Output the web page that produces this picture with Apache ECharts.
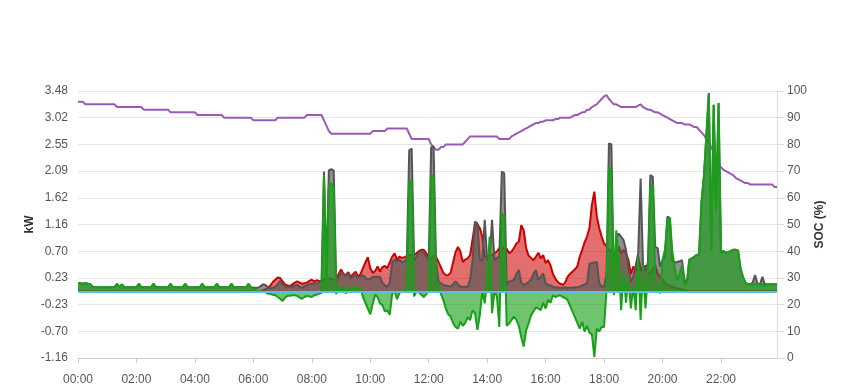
<!DOCTYPE html>
<html><head><meta charset="utf-8">
<script src="https://cdn.jsdelivr.net/npm/echarts@6/dist/echarts.min.js"></script>
<style>html,body{margin:0;padding:0;background:#fff}#c{width:849px;height:390px}</style>
</head><body><div id="c"></div>
<script>
function pad(n){return (n<10?'0':'')+n;}
// 5-minute categories 00:00 .. 23:55
const categories = [];
for (let h = 0; h < 24; h++) for (let m = 0; m < 60; m += 5) categories.push(pad(h) + ':' + pad(m));

// Battery state of charge (%)
const soc = [
96,96,96,95,95,95,95,95,95,95,95,95,
95,95,95,95,94,94,94,94,94,94,94,94,
94,94,94,93,93,93,93,93,93,93,93,93,
93,93,92,92,92,92,92,92,92,92,92,92,
92,91,91,91,91,91,91,91,91,91,91,91,
90,90,90,90,90,90,90,90,90,90,90,90,
89,89,89,89,89,89,89,89,89,89,90,90,
90,90,90,90,90,90,90,90,90,90,91,91,
91,91,91,91,91,89,87,85,84,84,84,84,
84,84,84,84,84,84,84,84,84,84,84,84,
84,85,85,85,85,85,85,86,86,86,86,86,
86,86,86,86,84,82,82,82,82,82,82,82,
82,80,79,78,78,79,79,80,80,80,80,80,
80,80,80,81,82,83,83,83,83,83,83,83,
83,83,83,83,83,82,82,82,82,82,83,83.5,
84,84.5,85,85.5,86,86.5,87,87.5,88,88,88.5,88.5,
89,89,89,89,89.5,89.5,90,90,90,90,90,90.5,
91,91,91.5,92,92,93,93,94,94.5,95,96,97,
98,98.5,97,96,95,95,94.5,94,94,94,94,94,
94,94,94.5,95,94,93.5,93,93,92.5,92,92,91.5,
91,90.5,90,89.5,89,88.5,88,88,88,87.5,87.5,87.5,
87,86.5,86.5,85.5,84.5,83.5,82,81,79,77,75,72.5,
71.5,70.5,70,69.5,69,68.5,67.5,67,66.5,66,65.5,65.5,
65,65,65,65,65,65,65,65,65,65,64,64
];

// Red series (kW)
const redKw = [
0,0,0,0,0,0,0,0,0,0,0,0,
0,0,0,0,0,0,0,0,0,0,0,0,
0,0,0,0,0,0,0,0,0,0,0,0,
0,0,0,0,0,0,0,0,0,0,0,0,
0,0,0,0,0,0,0,0,0,0,0,0,
0,0,0,0,0,0,0,0,0,0,0,0,
0,0,0,0,0.02,0.03,0.06,0.1,0.16,0.2,0.24,0.23,
0.17,0.12,0.1,0.09,0.12,0.15,0.17,0.15,0.13,0.14,0.15,0.18,
0.2,0.17,0.19,0.18,0.18,0.2,0.22,0.22,0.22,0.2,0.17,0.3,
0.38,0.3,0.28,0.33,0.25,0.3,0.34,0.25,0.3,0.4,0.5,0.59,
0.4,0.32,0.35,0.43,0.34,0.42,0.44,0.4,0.5,0.6,0.66,0.55,
0.6,0.58,0.59,0.61,0.63,0.63,0.63,0.66,0.7,0.72,0.72,0.66,
0.6,0.57,0.62,0.6,0.51,0.42,0.32,0.28,0.28,0.32,0.5,0.68,
0.77,0.69,0.51,0.55,0.57,0.63,0.9,1.18,1.16,1.1,0.95,0.6,
0.6,0.62,0.63,0.66,0.69,0.75,0.72,0.78,0.74,0.66,0.69,0.75,
0.83,0.86,1.15,1.06,0.75,0.62,0.58,0.54,0.6,0.67,0.57,0.63,
0.49,0.54,0.45,0.3,0.22,0.16,0.13,0.11,0.15,0.25,0.3,0.34,
0.38,0.43,0.6,0.72,0.85,0.95,1.1,1.5,1.73,1.3,1.1,0.95,
0.83,0.78,0.72,0.7,0.66,0.7,0.78,0.66,0.72,0.66,0.54,0.3,
0.43,0.35,0.6,0.4,0.3,0.45,0.35,0.3,0.4,0.45,0.3,0.25,
0.2,0.15,0.12,0.1,0.08,0.06,0.05,0.04,0.03,0.02,0,0,
0,0,0,0,0,0,0,0,0,0,0,0,
0,0,0,0,0,0,0,0,0,0,0,0,
0,0,0,0,0,0,0,0,0,0,0,0
];

// Grey series (kW)
const greyKw = [
0.14,0.14,0.13,0.14,0.13,0.12,0.08,0.07,0.07,0.07,0.07,0.07,
0.07,0.07,0.07,0.07,0.13,0.07,0.12,0.07,0.07,0.07,0.07,0.07,
0.07,0.13,0.07,0.07,0.07,0.07,0.07,0.13,0.07,0.07,0.07,0.07,
0.07,0.07,0.13,0.07,0.07,0.07,0.07,0.07,0.13,0.07,0.07,0.07,
0.07,0.07,0.07,0.13,0.07,0.07,0.07,0.07,0.07,0.13,0.07,0.07,
0.07,0.07,0.07,0.13,0.07,0.07,0.07,0.07,0.07,0.07,0.13,0.07,
0.06,0.06,0.06,0.09,0.12,0.11,0.06,0.05,0.06,0.08,0.12,0.18,
0.12,0.08,0.07,0.08,0.08,0.1,0.11,0.08,0.06,0.09,0.1,0.12,
0.13,0.14,0.13,0.16,0.17,2.08,0.35,2.1,2.12,2.1,0.17,0.25,
0.31,0.3,0.27,0.31,0.22,0.26,0.28,0.24,0.26,0.28,0.24,0.2,
0.22,0.25,0.25,0.25,0.25,0.15,0.1,0.08,0.15,0.5,0.55,0.52,
0.55,0.5,0.52,0.55,2.45,2.48,0.54,0.6,0.68,0.69,0.66,0.6,
0.54,2.5,2.52,0.5,0.17,0.14,0.11,0.1,0.09,0.08,0.12,0.17,
0.12,0.08,0.08,0.08,0.08,0.2,0.54,1.21,1.18,0.54,0.54,1.24,
0.55,0.55,1.24,0.54,0.58,0.6,2.08,2.05,0.12,0.17,0.18,0.2,
0.3,0.37,0.15,0.11,0.13,0.16,0.2,0.3,0.37,0.2,0.25,0.31,
0.14,0.11,0.1,0.08,0.07,0.06,0.06,0.06,0.07,0.06,0.06,0.06,
0.07,0.07,0.08,0.1,0.12,0.14,0.48,0.49,0.5,0.51,0.15,0.08,
0.08,0.3,2.57,2.55,0.14,0.95,1.0,0.95,0.89,0.72,0.4,0.17,
0.25,0.45,0.66,1.96,0.45,0.37,0.5,2.02,1.99,0.77,0.75,0.43,
0.54,0.6,1.3,1.27,0.54,0.5,0.51,0.52,0.54,0.2,0.15,0.55,
0.57,0.6,0.63,0.64,1.55,2.0,2.7,3.44,0.7,3.24,1.4,3.27,
0.68,0.7,0.67,0.68,0.7,0.72,0.72,0.71,0.4,0.25,0.15,0.12,
0.12,0.15,0.28,0.13,0.12,0.25,0.12,0.12,0.12,0.12,0.12,0.12
];

// Green series (kW)
const greenKw = [
0.14,0.14,0.13,0.14,0.13,0.12,0.08,0.07,0.07,0.07,0.07,0.07,
0.07,0.07,0.07,0.07,0.13,0.07,0.12,0.07,0.07,0.07,0.07,0.07,
0.07,0.13,0.07,0.07,0.07,0.07,0.07,0.13,0.07,0.07,0.07,0.07,
0.07,0.07,0.13,0.07,0.07,0.07,0.07,0.07,0.13,0.07,0.07,0.07,
0.07,0.07,0.07,0.13,0.07,0.07,0.07,0.07,0.07,0.13,0.07,0.07,
0.07,0.07,0.07,0.13,0.07,0.07,0.07,0.07,0.07,0.07,0.13,0.07,
0.03,0.02,0.0,0.0,-0.01,-0.02,-0.04,-0.05,-0.06,-0.07,-0.1,-0.13,
-0.17,-0.11,-0.08,-0.08,-0.07,-0.07,-0.08,-0.11,-0.13,-0.1,-0.08,-0.09,
-0.1,-0.07,-0.06,-0.04,-0.03,2.02,0.0,1.85,1.87,1.8,-0.05,0.09,
-0.02,0.08,-0.04,0.09,-0.02,0.06,0.08,0.05,0.05,-0.1,-0.2,-0.3,
-0.4,-0.22,-0.06,-0.1,-0.21,-0.24,-0.35,-0.33,-0.41,-0.04,0.0,-0.14,
-0.03,0.0,0.0,0.08,1.9,1.93,-0.09,0.0,-0.02,-0.06,-0.1,-0.05,
0.02,1.98,2.02,0.14,0.14,-0.05,-0.15,-0.3,-0.4,-0.44,-0.55,-0.62,
-0.65,-0.53,-0.6,-0.55,-0.45,-0.5,-0.33,-0.38,-0.67,-0.41,0.0,-0.21,
0.2,0.95,-0.38,0.0,-0.09,-0.62,1.35,1.3,-0.6,-0.56,-0.5,-0.44,
-0.5,-0.6,-0.8,-0.96,-0.68,-0.56,-0.42,-0.35,-0.28,-0.3,-0.33,-0.2,
-0.3,-0.15,-0.2,-0.07,-0.1,-0.08,-0.07,-0.1,-0.12,-0.15,-0.25,-0.35,
-0.45,-0.55,-0.65,-0.53,-0.7,-0.6,-0.72,-0.75,-1.14,-0.65,-0.7,-0.62,
-0.62,0.02,2.16,2.1,-0.07,1.06,0.6,-0.33,0.37,-0.2,0.25,-0.3,
0.1,-0.33,0.6,-0.5,0.45,-0.3,0.3,1.8,1.85,0.2,0.1,-0.04,
0.54,0.72,1.25,1.28,0.7,0.4,0.2,0.3,0.45,0.1,0.15,0.55,
0.57,0.6,0.63,0.64,1.55,2.0,2.7,3.44,0.7,3.24,1.4,3.27,
0.68,0.7,0.67,0.68,0.7,0.72,0.72,0.71,0.4,0.25,0.15,0.12,
0.12,0.12,0.12,0.12,0.12,0.12,0.08,0.12,0.12,0.12,0.12,0.12
];

const font = '"Liberation Sans", Arial, sans-serif';
const chart = echarts.init(document.getElementById('c'), null, {renderer: 'canvas'});
chart.setOption({
  animation: false,
  grid: {left: 78, right: 72, top: 91, bottom: 32},
  xAxis: {
    type: 'category', data: categories, boundaryGap: false,
    axisLine: {lineStyle: {color: '#ccc'}},
    axisTick: {interval: 23, length: 5, lineStyle: {color: '#ccc'}},
    axisLabel: {interval: 23, color: '#555', fontSize: 12, fontFamily: font, margin: 16},
    splitLine: {show: false}
  },
  yAxis: [
    {
      type: 'value', position: 'right', min: 0, max: 100, interval: 10,
      name: 'SOC (%)', nameLocation: 'middle', nameGap: 37, nameMoveOverlap: false,
      nameTextStyle: {fontWeight: 'bold', color: '#333', fontSize: 12, fontFamily: font},
      axisLine: {show: true, lineStyle: {color: '#ddd'}},
      axisTick: {show: true, length: 7, lineStyle: {color: '#ddd'}},
      axisLabel: {color: '#555', fontSize: 12, margin: 10, fontFamily: font},
      splitLine: {show: true, lineStyle: {color: '#e6e6e6'}}
    },
    {
      type: 'value', position: 'left', min: -1.16, max: 3.48, alignTicks: true,
      name: 'kW', nameLocation: 'middle', nameGap: 42, nameMoveOverlap: false,
      nameTextStyle: {fontWeight: 'bold', color: '#333', fontSize: 12, fontFamily: font},
      axisLine: {show: false}, axisTick: {show: false},
      axisLabel: {color: '#555', fontSize: 12, margin: 10, fontFamily: font,
        formatter: function (v) { return v.toFixed(2); }},
      splitLine: {show: false}
    }
  ],
  series: [
    {name: 'SOC', type: 'line', yAxisIndex: 0, data: soc, symbol: 'none', z: 1,
      lineStyle: {color: '#9b59b6', width: 2}, itemStyle: {color: '#9b59b6'}},
    {name: 'Red', type: 'line', yAxisIndex: 1, data: redKw, symbol: 'none', z: 1,
      lineStyle: {color: '#cc0000', width: 2}, itemStyle: {color: '#cc0000'},
      areaStyle: {color: '#cc0000', opacity: 0.57}},
    {name: 'Grey', type: 'line', yAxisIndex: 1, data: greyKw, symbol: 'none', z: 2,
      lineStyle: {color: '#555555', width: 2}, itemStyle: {color: '#555555'},
      areaStyle: {color: '#555555', opacity: 0.66}},
    {name: 'Green', type: 'line', yAxisIndex: 1, data: greenKw, symbol: 'none', z: 3,
      lineStyle: {color: '#19a019', width: 2}, itemStyle: {color: '#19a019'},
      areaStyle: {color: '#19a019', opacity: 0.62},
      markLine: {silent: true, z: 10, symbol: ['none', 'none'], label: {show: false},
        lineStyle: {color: '#5bc0de', width: 2, type: 'solid', opacity: 1},
        data: [{yAxis: 0}]}}
  ]
});
</script>
</body></html>
